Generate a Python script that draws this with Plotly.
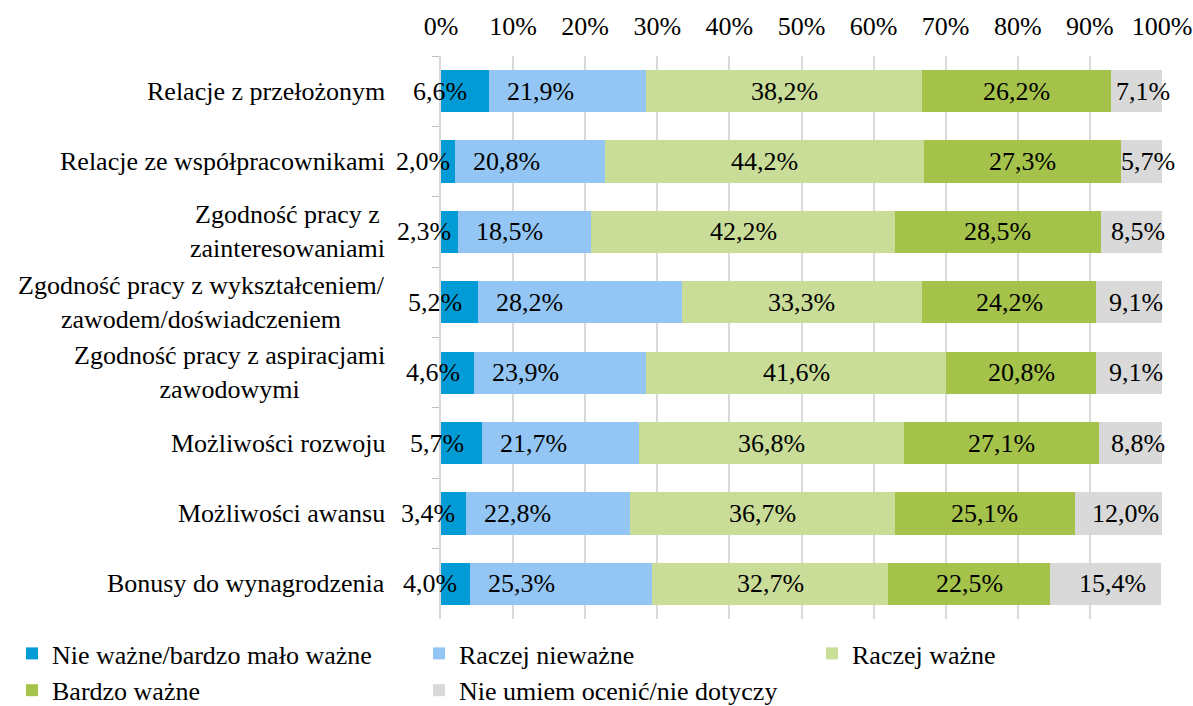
import plotly.graph_objects as go
import numpy as np

categories = [
    "Relacje z przełożonym",
    "Relacje ze współpracownikami",
    "Zgodność pracy z<br>zainteresowaniami",
    "Zgodność pracy z wykształceniem/<br>zawodem/doświadczeniem",
    "Zgodność pracy z aspiracjami<br>zawodowymi",
    "Możliwości rozwoju",
    "Możliwości awansu",
    "Bonusy do wynagrodzenia",
]
series_names = [
    "Nie ważne/bardzo mało ważne",
    "Raczej nieważne",
    "Raczej ważne",
    "Bardzo ważne",
    "Nie umiem ocenić/nie dotyczy",
]
nie_wazne = [6.6, 2.0, 2.3, 5.2, 4.6, 5.7, 3.4, 4.0]
raczej_niewazne = [21.9, 20.8, 18.5, 28.2, 23.9, 21.7, 22.8, 25.3]
raczej_wazne = [38.2, 44.2, 42.2, 33.3, 41.6, 36.8, 36.7, 32.7]
bardzo_wazne = [26.2, 27.3, 28.5, 24.2, 20.8, 27.1, 25.1, 22.5]
nie_umiem = [7.1, 5.7, 8.5, 9.1, 9.1, 8.8, 12.0, 15.4]
tick_vals = [0, 10, 20, 30, 40, 50, 60, 70, 80, 90, 100]
tick_text = [f"{v}%" for v in tick_vals]

colors = ["#019cd6", "#93c6f4", "#c9dc98", "#a5c24b", "#d9d9d9"]
series = [nie_wazne, raczej_niewazne, raczej_wazne, bardzo_wazne, nie_umiem]
legend_ids = ["legend", "legend2", "legend3", "legend", "legend2"]

FONT = "Times New Roman, Liberation Serif, serif"
FS = 26

fig = go.Figure()
for name, vals, col, lg in zip(series_names, series, colors, legend_ids):
    fig.add_trace(go.Bar(
        y=categories, x=vals, name=name, orientation="h",
        marker=dict(color=col, line=dict(width=0)),
        hoverinfo="x+y", legend=lg,
    ))

# data labels
label_style = [
    dict(xanchor="center", xshift=-25, pos="mid"),
    dict(xanchor="left", xshift=16, pos="start"),
    dict(xanchor="center", xshift=0, pos="mid"),
    dict(xanchor="center", xshift=0, pos="mid"),
    dict(xanchor="center", xshift=7, pos="mid"),
]
annotations = []
cum = np.zeros(len(categories))
for vals, st in zip(series, label_style):
    v = np.array(vals)
    for i, cat in enumerate(categories):
        xpos = cum[i] + (v[i] / 2 if st["pos"] == "mid" else 0)
        annotations.append(dict(
            x=xpos, y=cat, xref="x", yref="y",
            text=f"{v[i]:.1f}%".replace(".", ","),
            showarrow=False, xanchor=st["xanchor"], xshift=st["xshift"],
            font=dict(family=FONT, size=FS, color="#000000"),
        ))
    cum = cum + v

# category labels (centered multi-line, right-anchored)
for cat in categories:
    annotations.append(dict(
        x=0, y=cat, xref="x", yref="y", text=cat, showarrow=False,
        xanchor="right", xshift=-54, align="center",
        font=dict(family=FONT, size=FS, color="#000000"),
    ))

legend_common = dict(
    orientation="v", xref="container", yref="container",
    xanchor="left", yanchor="top", traceorder="normal",
    font=dict(family=FONT, size=FS, color="#000000"),
    bgcolor="rgba(0,0,0,0)", itemwidth=30, tracegroupgap=0,
)
ly = 1 - 630 / 706
fig.update_layout(
    barmode="stack",
    bargap=0.4,
    width=1193, height=706,
    margin=dict(l=441, r=31, t=56, b=87, autoexpand=False),
    paper_bgcolor="white", plot_bgcolor="white",
    font=dict(family=FONT, size=FS, color="#000000"),
    annotations=annotations,
    showlegend=True,
    xaxis=dict(
        side="top", range=[0, 100], tickvals=tick_vals, ticktext=tick_text,
        showgrid=True, gridcolor="#d9d9d9", gridwidth=1.5,
        zeroline=False, showline=False, ticks="",
        ticklabelstandoff=15,
        tickfont=dict(family=FONT, size=FS, color="#000000"),
    ),
    yaxis=dict(
        autorange="reversed", showticklabels=False,
        showline=True, linecolor="#d9d9d9", linewidth=1.5,
        ticks="outside", tickson="boundaries", ticklen=7, tickcolor="#bfbfbf",
        showgrid=False, zeroline=False,
    ),
    legend=dict(legend_common, x=12 / 1193, y=ly),
    legend2=dict(legend_common, x=419 / 1193, y=ly),
    legend3=dict(legend_common, x=812 / 1193, y=ly),
)

fig.write_html("out.html", config={"displayModeBar": False},
               post_script="document.body.style.margin='0';")
